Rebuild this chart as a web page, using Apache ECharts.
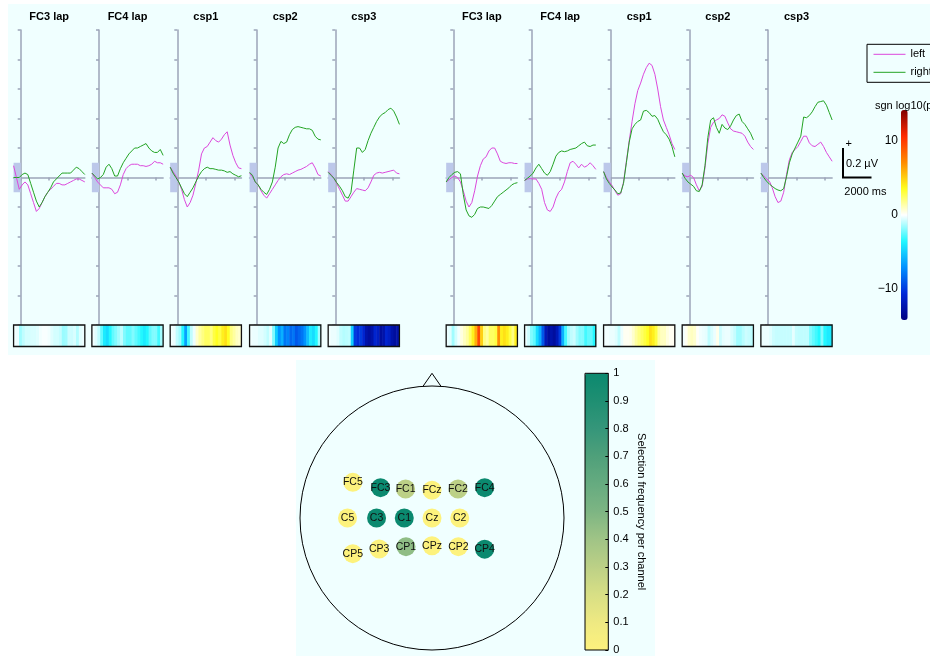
<!DOCTYPE html>
<html>
<head>
<meta charset="utf-8">
<script src="https://cdn.jsdelivr.net/npm/echarts@6/dist/echarts.min.js"></script>
<style>
  html, body { margin: 0; padding: 0; background: #ffffff; }
  #main { width: 930px; height: 656px; }
</style>
</head>
<body>
<div id="main"></div>
<script>
// ---------------------------------------------------------------------------
// Data
// ---------------------------------------------------------------------------
const panelTitles = ['FC3 lap', 'FC4 lap', 'csp1', 'csp2', 'csp3'];
const classNames = ['left', 'right'];

// sample times of the averaged traces (ms, relative to cue)
const timeMs = [-500, -300, -100, 100, 300, 500, 700, 900, 1100, 1300, 1500, 1700, 1900,
                2100, 2300, 2500, 2700, 2900, 3100, 3300, 3500, 3700, 3900, 4100, 4300, 4500];
// start of each significance bin (ms)
const binStartMs = [-500, -300, -100, 100, 300, 500, 700, 900, 1100, 1300, 1500, 1700, 1900,
                    2100, 2300, 2500, 2700, 2900, 3100, 3300, 3500, 3700, 3900, 4100, 4300];

const baselineMs = [-500, 0];
const baselineBandUv = 0.1;
const scaleBarMs = 2000;
const scaleBarUv = 0.2;

// averaged traces, µV — block A
const a_FC3lap_left  = [0.08, 0.0, -0.08, -0.05, -0.03, -0.05, -0.11, -0.17, -0.23, -0.21, -0.17, -0.13, -0.10, -0.08, -0.06, -0.04, -0.04, -0.05, -0.05, -0.04, -0.03, -0.02, -0.01, -0.01, -0.02, -0.03];
const a_FC3lap_right = [0.0, 0.0, 0.0, 0.02, 0.03, 0.02, -0.04, -0.10, -0.16, -0.20, -0.17, -0.13, -0.10, -0.07, -0.03, -0.01, 0.01, 0.03, 0.03, 0.03, 0.03, 0.05, 0.07, 0.06, 0.04, 0.02];
const a_FC4lap_left  = [0.03, 0.0, -0.03, -0.05, -0.07, -0.07, -0.07, -0.08, -0.11, -0.10, -0.05, 0.02, 0.06, 0.08, 0.09, 0.09, 0.09, 0.08, 0.08, 0.075, 0.08, 0.09, 0.11, 0.10, 0.10, 0.09];
const a_FC4lap_right = [0.03, 0.01, -0.01, 0.0, 0.02, 0.07, 0.09, 0.06, 0.01, 0.01, 0.06, 0.10, 0.13, 0.16, 0.18, 0.20, 0.20, 0.21, 0.22, 0.23, 0.20, 0.18, 0.17, 0.17, 0.19, 0.15];
const a_csp1_left    = [0.07, 0.04, 0.01, -0.03, -0.08, -0.15, -0.20, -0.17, -0.12, -0.04, 0.05, 0.16, 0.20, 0.21, 0.24, 0.27, 0.25, 0.24, 0.26, 0.29, 0.31, 0.22, 0.15, 0.10, 0.065, 0.06];
const a_csp1_right   = [0.07, 0.03, 0.0, -0.03, -0.07, -0.11, -0.13, -0.10, -0.07, -0.03, 0.01, 0.04, 0.06, 0.07, 0.06, 0.06, 0.055, 0.05, 0.05, 0.045, 0.035, 0.04, 0.025, 0.015, 0.005, 0.012];
const a_csp2_left    = [0.03, 0.005, -0.03, -0.05, -0.09, -0.12, -0.14, -0.11, -0.08, -0.05, -0.02, 0.005, 0.02, 0.025, 0.02, 0.03, 0.04, 0.05, 0.055, 0.065, 0.075, 0.09, 0.10, 0.065, 0.02, 0.01];
const a_csp2_right   = [0.035, 0.015, -0.03, -0.05, -0.08, -0.10, -0.115, -0.08, -0.03, 0.07, 0.20, 0.245, 0.23, 0.24, 0.29, 0.325, 0.34, 0.345, 0.34, 0.335, 0.33, 0.33, 0.32, 0.28, 0.26, 0.255];
const a_csp3_left    = [0.04, 0.02, -0.005, -0.04, -0.08, -0.12, -0.16, -0.16, -0.13, -0.10, -0.075, -0.08, -0.085, -0.09, -0.07, -0.03, 0.015, 0.03, 0.035, 0.03, 0.035, 0.04, 0.045, 0.05, 0.03, 0.025];
const a_csp3_right   = [0.035, 0.015, -0.005, -0.035, -0.06, -0.09, -0.13, -0.14, -0.10, 0.05, 0.20, 0.20, 0.17, 0.19, 0.25, 0.30, 0.34, 0.38, 0.41, 0.43, 0.44, 0.46, 0.47, 0.45, 0.41, 0.36];

// averaged traces, µV — block B
const b_FC3lap_left  = [-0.03, -0.015, 0.0, 0.01, 0.0, -0.03, -0.09, -0.16, -0.20, -0.17, -0.09, 0.01, 0.08, 0.125, 0.14, 0.18, 0.20, 0.20, 0.16, 0.11, 0.10, 0.095, 0.10, 0.10, 0.095, 0.095];
const b_FC3lap_right = [-0.03, 0.0, 0.02, 0.035, 0.04, 0.025, -0.115, -0.22, -0.26, -0.27, -0.25, -0.21, -0.20, -0.20, -0.205, -0.21, -0.19, -0.16, -0.13, -0.115, -0.10, -0.085, -0.07, -0.05, -0.04, -0.035];
const b_FC4lap_left  = [-0.02, -0.01, -0.007, -0.01, -0.01, -0.04, -0.08, -0.17, -0.22, -0.23, -0.20, -0.14, -0.10, -0.08, -0.03, 0.04, 0.10, 0.11, 0.09, 0.065, 0.09, 0.07, 0.08, 0.10, 0.08, 0.055];
const b_FC4lap_right = [-0.02, -0.005, 0.01, 0.03, 0.065, 0.09, 0.06, 0.03, 0.015, 0.04, 0.09, 0.145, 0.17, 0.18, 0.175, 0.18, 0.19, 0.195, 0.20, 0.215, 0.23, 0.24, 0.215, 0.21, 0.22, 0.22];
const b_csp1_left    = [0.04, 0.0, -0.03, -0.055, -0.09, -0.12, -0.11, -0.03, 0.11, 0.25, 0.38, 0.50, 0.59, 0.64, 0.70, 0.745, 0.775, 0.76, 0.70, 0.60, 0.48, 0.39, 0.34, 0.29, 0.23, 0.19];
const b_csp1_right   = [0.04, -0.01, -0.04, -0.065, -0.085, -0.11, -0.105, -0.04, 0.10, 0.24, 0.33, 0.36, 0.38, 0.39, 0.45, 0.455, 0.44, 0.415, 0.42, 0.395, 0.35, 0.31, 0.29, 0.26, 0.21, 0.14];
const b_csp2_left    = [0.03, 0.01, 0.005, 0.015, 0.0, -0.05, -0.09, -0.06, 0.065, 0.23, 0.34, 0.375, 0.39, 0.40, 0.425, 0.415, 0.37, 0.33, 0.315, 0.31, 0.305, 0.30, 0.28, 0.24, 0.21, 0.19];
const b_csp2_right   = [0.03, -0.005, -0.03, -0.045, -0.06, -0.09, -0.095, -0.05, 0.08, 0.27, 0.39, 0.405, 0.34, 0.30, 0.36, 0.335, 0.325, 0.35, 0.39, 0.42, 0.43, 0.38, 0.36, 0.33, 0.30, 0.255];
const b_csp3_left    = [0.03, 0.01, -0.01, -0.025, -0.07, -0.13, -0.17, -0.16, -0.10, 0.02, 0.12, 0.17, 0.19, 0.21, 0.245, 0.28, 0.28, 0.235, 0.215, 0.21, 0.225, 0.24, 0.21, 0.17, 0.14, 0.11];
const b_csp3_right   = [0.03, 0.0, -0.025, -0.045, -0.06, -0.075, -0.085, -0.09, -0.075, 0.005, 0.10, 0.16, 0.20, 0.24, 0.28, 0.41, 0.405, 0.42, 0.445, 0.48, 0.51, 0.515, 0.52, 0.49, 0.44, 0.39];

// signed log10(p) of the left/right difference per bin
const sgnA_FC3lap = [-0.2, -0.3, -1.5, -1.0, -0.7, -0.7, -0.6, -0.6, -0.5, -0.2, -0.1, -0.1, -0.2, -0.5, -0.7, -0.7, -0.9, -1.6, -1.5, -0.8, -0.8, -0.6, -1.2, -0.5, -0.3];
const sgnA_FC4lap = [-0.2, -0.5, -1.0, -2.5, -4.0, -4.5, -3.5, -2.5, -2.0, -1.5, -1.0, -2.0, -2.5, -2.5, -2.0, -2.5, -3.0, -3.5, -4.0, -3.5, -2.5, -2.0, -2.0, -3.0, -1.5];
const sgnA_csp1   = [-0.2, -0.3, -1.0, -1.5, -3.5, -6.5, -3.0, -1.0, -0.3, 0.8, 1.5, 2.0, 2.5, 2.5, 2.0, 3.0, 3.5, 3.0, 4.0, 4.5, 3.5, 2.0, 1.5, 1.0, 0.8];
const sgnA_csp2   = [-0.2, -0.3, -0.3, -0.5, -0.5, -0.7, -1.0, -0.4, -2.0, -5.0, -7.0, -6.0, -8.0, -7.5, -8.5, -8.0, -9.0, -8.5, -8.0, -7.0, -5.5, -4.0, -4.5, -3.5, -1.5];
const sgnA_csp3   = [-0.2, -0.3, -0.3, -0.5, -1.0, -1.2, -1.1, -1.0, -5.0, -10.0, -10.5, -10.0, -11.0, -12.5, -13.0, -12.5, -11.0, -11.5, -13.0, -12.5, -11.0, -11.5, -12.5, -13.0, -12.5];
const sgnB_FC3lap = [-0.3, -0.5, -1.5, -0.7, -0.2, 0.5, 1.0, 1.5, 2.5, 4.0, 6.0, 9.5, 5.0, 2.0, 1.5, 2.5, 2.5, 3.0, 7.0, 4.0, 4.5, 4.0, 3.0, 2.0, 4.0];
const sgnB_FC4lap = [-0.3, -0.8, -2.0, -2.5, -4.5, -6.0, -9.0, -12.0, -13.0, -12.5, -13.0, -12.0, -10.0, -6.0, -3.0, -1.5, -1.0, -0.8, -1.5, -2.0, -2.0, -3.0, -2.5, -2.5, -3.5];
const sgnB_csp1   = [-0.2, -0.2, -0.3, -0.3, -0.5, -1.0, -0.3, 0.2, 0.2, 0.3, 0.8, 1.5, 2.0, 2.5, 3.0, 3.5, 4.5, 4.0, 3.0, 1.5, 1.0, 1.0, 0.5, 0.2, 0.2];
const sgnB_csp2   = [-0.2, 0.2, 0.8, 1.0, 0.8, 0.1, -0.2, -0.3, -0.4, -1.0, -0.6, -0.3, 0.3, -0.8, -0.4, -0.3, -0.3, -0.6, -0.9, -1.5, -1.5, -1.1, -0.8, -0.9, -1.1];
const sgnB_csp3   = [-0.3, -0.3, -0.3, -0.5, -0.8, -0.9, -0.9, -0.9, -0.9, -0.9, -0.9, -0.4, -0.9, -1.0, -1.0, -1.0, -1.0, -2.0, -2.5, -3.0, -3.5, -2.0, -3.5, -4.0, -4.0];

// channel selection on the scalp (head units, nose up)
const electrodeNames = ['FC5', 'FC3', 'FC1', 'FCz', 'FC2', 'FC4', 'C5', 'C3', 'C1', 'Cz', 'C2', 'CP5', 'CP3', 'CP1', 'CPz', 'CP2', 'CP4'];
const electrodeX = [-0.60, -0.39, -0.20, 0.0, 0.197, 0.399, -0.64, -0.42, -0.21, 0.0, 0.21, -0.60, -0.40, -0.197, 0.0, 0.20, 0.399];
const electrodeY = [0.27, 0.23, 0.22, 0.21, 0.22, 0.23, 0.0, 0.0, 0.0, 0.0, 0.0, -0.27, -0.235, -0.217, -0.21, -0.217, -0.236];
const selectionFreq = [0.0, 1.0, 0.3, 0.0, 0.3, 1.0, 0.0, 1.0, 1.0, 0.0, 0.0, 0.0, 0.0, 0.45, 0.0, 0.0, 1.0];
const noseOutline = [[-0.068, 0.998], [0, 1.096], [0.068, 0.998]];

const signifRange = [-14.2, 14.2];
const signifTicks = [-10, 0, 10];

const curvesLeft  = [a_FC3lap_left, a_FC4lap_left, a_csp1_left, a_csp2_left, a_csp3_left,
                     b_FC3lap_left, b_FC4lap_left, b_csp1_left, b_csp2_left, b_csp3_left];
const curvesRight = [a_FC3lap_right, a_FC4lap_right, a_csp1_right, a_csp2_right, a_csp3_right,
                     b_FC3lap_right, b_FC4lap_right, b_csp1_right, b_csp2_right, b_csp3_right];
const strips = [sgnA_FC3lap, sgnA_FC4lap, sgnA_csp1, sgnA_csp2, sgnA_csp3,
                sgnB_FC3lap, sgnB_FC4lap, sgnB_csp1, sgnB_csp2, sgnB_csp3];

// ---------------------------------------------------------------------------
// Layout and style
// ---------------------------------------------------------------------------
const FONT = "'Liberation Sans', Arial, Helvetica, sans-serif";
const MAGENTA = '#dc48dc';
const GREEN = '#23a323';
const AXIS_COLOR = '#9ca5b9';
const SHADE = '#bcc8ea';
const BG = '#f0ffff';

const zeroX = [20.7, 99, 177.3, 256.7, 335.3, 453.3, 531.7, 610.7, 689.3, 768];
const PANEL_W = 71.25, PRE_W = 7.125;
const PANEL_TOP = 30, PANEL_H = 295;
const STRIP_TOP = 325, STRIP_H = 21.5;

const signifColors = ['#000080', '#0028d8', '#0090ff', '#20f8ff', '#ffffff',
                      '#ffff20', '#ff8c00', '#ff2a00', '#800000'];
const freqColors = ['#fdf27d', '#eee982', '#d8df85', '#bcd086', '#a0c486', '#7db583',
                    '#66ab80', '#4fa07a', '#35967a', '#1f8f72', '#0b896f'];

const nPanels = zeroX.length;
const grids = [], xAxes = [], yAxes = [], series = [], titles = [];
const axisLineStyle = { color: AXIS_COLOR, width: 1.5 };

for (let i = 0; i < nPanels; i++) {
  grids.push({ left: zeroX[i] - PRE_W, top: PANEL_TOP, width: PANEL_W, height: PANEL_H });
  xAxes.push({
    type: 'value', gridIndex: i, min: timeMs[0], max: timeMs[timeMs.length - 1],
    axisLine: { show: true, onZero: true, lineStyle: axisLineStyle },
    axisTick: { show: true, customValues: [0, 2000, 4000], length: 3, lineStyle: axisLineStyle },
    axisLabel: { show: false }, splitLine: { show: false }
  });
  yAxes.push({
    type: 'value', gridIndex: i, min: -1, max: 1, interval: 0.2,
    axisLine: { show: true, onZero: true, lineStyle: axisLineStyle },
    axisTick: { show: true, length: 3, lineStyle: axisLineStyle },
    axisLabel: { show: false }, splitLine: { show: false }
  });
  titles.push({
    text: panelTitles[i % panelTitles.length],
    left: zeroX[i] - PRE_W + PANEL_W / 2, top: 11, textAlign: 'center', padding: 0,
    textStyle: { fontSize: 11, fontWeight: 'bold', color: '#000', fontFamily: FONT }
  });
}
for (let i = 0; i < nPanels; i++) {
  grids.push({ left: zeroX[i] - PRE_W, top: STRIP_TOP, width: PANEL_W, height: STRIP_H,
               show: true, borderColor: '#111', borderWidth: 1.3, z: 10 });
  xAxes.push({ type: 'category', gridIndex: nPanels + i, data: binStartMs, show: false });
  yAxes.push({ type: 'category', gridIndex: nPanels + i, data: ['p'], show: false });
}
// significance colorbar axis
const CB1 = grids.length;
grids.push({ left: 901, top: 110, width: 6.7, height: 210 });
xAxes.push({ type: 'value', gridIndex: CB1, show: false });
yAxes.push({
  type: 'value', gridIndex: CB1, min: signifRange[0], max: signifRange[1], position: 'left',
  axisLine: { show: false, onZero: false }, axisTick: { show: false }, splitLine: { show: false },
  axisLabel: { customValues: signifTicks, margin: 3, fontSize: 12, color: '#000', fontFamily: FONT,
               formatter: v => (v < 0 ? '\u2212' + Math.abs(v) : String(v)) }
});
// selection-frequency colorbar axis
const CB2 = grids.length;
grids.push({ left: 585, top: 373.3, width: 23.3, height: 276.7, show: true,
             borderColor: '#000', borderWidth: 1, z: 10 });
xAxes.push({ type: 'value', gridIndex: CB2, show: false });
yAxes.push({
  type: 'value', gridIndex: CB2, min: 0, max: 1, interval: 0.1, position: 'right', z: 10,
  axisLine: { show: false, onZero: false }, splitLine: { show: false },
  axisTick: { show: true, inside: true, length: 3, lineStyle: { color: '#000', width: 1 } },
  axisLabel: { margin: 5, fontSize: 11, color: '#000', fontFamily: FONT,
               formatter: v => String(Math.round(v * 10) / 10) },
  name: 'Selection frequency per channel', nameLocation: 'middle', nameRotate: -90, nameGap: 27,
  nameTextStyle: { fontSize: 11, color: '#000', fontFamily: FONT }
});
// scalp map
const HEAD = grids.length;
grids.push({ left: 300, top: 372.8, width: 264, height: 277.2 });
xAxes.push({ type: 'value', gridIndex: HEAD, min: -1, max: 1, show: false });
yAxes.push({ type: 'value', gridIndex: HEAD, min: -1, max: 1.1, show: false });

titles.push({ text: 'sgn log10(p)', left: 875, top: 100.5, padding: 0,
              textStyle: { fontSize: 11, fontWeight: 'normal', color: '#000', fontFamily: FONT } });

// traces
for (let i = 0; i < nPanels; i++) {
  [curvesLeft, curvesRight].forEach((set, c) => {
    const color = c === 0 ? MAGENTA : GREEN;
    const s = {
      type: 'line', name: classNames[c], xAxisIndex: i, yAxisIndex: i,
      data: timeMs.map((t, k) => [t, set[i][k]]),
      symbol: 'none', lineStyle: { color, width: 1 }, itemStyle: { color },
      emphasis: { disabled: true }, silent: true
    };
    if (c === 0) {
      s.markArea = {
        silent: true, itemStyle: { color: SHADE, opacity: 1 },
        data: [[{ coord: [baselineMs[0], -baselineBandUv] }, { coord: [baselineMs[1], baselineBandUv] }]]
      };
    }
    series.push(s);
  });
}
// significance strips
const stripSeries = [];
for (let i = 0; i < nPanels; i++) {
  stripSeries.push(series.length);
  series.push({
    type: 'heatmap', xAxisIndex: nPanels + i, yAxisIndex: nPanels + i,
    data: strips[i].map((v, k) => [k, 0, v]),
    itemStyle: { borderWidth: 0 }, emphasis: { disabled: true }, progressive: 0, silent: true
  });
}
// electrodes
const scalpSeries = series.length;
series.push({
  type: 'scatter', xAxisIndex: HEAD, yAxisIndex: HEAD, symbolSize: 19,
  data: electrodeNames.map((n, k) => ({ name: n, value: [electrodeX[k], electrodeY[k], selectionFreq[k]] })),
  itemStyle: { opacity: 1 },
  label: { show: true, position: 'inside', formatter: '{b}', fontSize: 10.5, color: '#111', fontFamily: FONT },
  emphasis: { disabled: true }, silent: true, z: 3
});

const option = {
  animation: false,
  backgroundColor: '#ffffff',
  textStyle: { fontFamily: FONT },
  title: titles,
  grid: grids,
  xAxis: xAxes,
  yAxis: yAxes,
  legend: {
    data: classNames, orient: 'vertical', left: 867, top: 44.3,
    padding: [4.5, 40, 4.5, 6], itemWidth: 32, itemHeight: 12, itemGap: 7,
    borderColor: '#000', borderWidth: 1, backgroundColor: BG, selectedMode: false,
    itemStyle: { opacity: 0 }, lineStyle: { width: 1 },
    textStyle: { fontSize: 11, color: '#000', fontFamily: FONT }
  },
  visualMap: [
    {
      type: 'continuous', min: signifRange[0], max: signifRange[1], seriesIndex: stripSeries, dimension: 2,
      inRange: { color: signifColors }, calculable: false, hoverLink: false, orient: 'vertical',
      left: 901, top: 110, itemWidth: 6.7, itemHeight: 210, padding: 0, text: null
    },
    {
      type: 'continuous', min: 0, max: 1, seriesIndex: [scalpSeries], dimension: 2,
      inRange: { color: freqColors }, calculable: false, hoverLink: false, orient: 'vertical',
      left: 585, top: 373.3, itemWidth: 23.3, itemHeight: 276.7, padding: 0, text: null
    }
  ],
  series
};

const chart = echarts.init(document.getElementById('main'));
chart.setOption(option);

// decorations sized from the axes: scale bar, head outline, panel backgrounds
const o = chart.convertToPixel({ gridIndex: 0 }, [0, 0]);
const s1 = chart.convertToPixel({ gridIndex: 0 }, [scaleBarMs, scaleBarUv]);
const barW = s1[0] - o[0];
const barH = o[1] - s1[1];
const corner = [843, 177.5];

const hc = chart.convertToPixel({ gridIndex: HEAD }, [0, 0]);
const he = chart.convertToPixel({ gridIndex: HEAD }, [1, 0]);
const headR = he[0] - hc[0];
const nosePts = noseOutline.map(p => chart.convertToPixel({ gridIndex: HEAD }, p));

const txt = (id, x, y, text) => ({
  type: 'text', id, x, y, z: 20,
  style: { text, fill: '#000', font: '11px ' + FONT, textVerticalAlign: 'middle', verticalAlign: 'middle' }
});

chart.setOption({
  graphic: [
    { type: 'rect', id: 'bgTop', z: -10, shape: { x: 8, y: 4, width: 940, height: 351 }, style: { fill: BG } },
    { type: 'rect', id: 'bgBottom', z: -10, shape: { x: 296, y: 360, width: 359, height: 300 }, style: { fill: BG } },
    { type: 'polyline', id: 'scaleBar', z: 20,
      shape: { points: [[corner[0], corner[1] - barH], corner, [corner[0] + barW, corner[1]]] },
      style: { stroke: '#000', lineWidth: 2, fill: null } },
    txt('plus', 845.5, 143.5, '+'),
    txt('uv', 846, 164, '0.2 \u00b5V'),
    txt('ms', 844.3, 192.3, '2000 ms'),
    { type: 'circle', id: 'head', z: 1, shape: { cx: hc[0], cy: hc[1], r: headR },
      style: { stroke: '#000', lineWidth: 1, fill: null } },
    { type: 'polyline', id: 'nose', z: 1, shape: { points: nosePts },
      style: { stroke: '#000', lineWidth: 1, fill: null } }
  ]
});
</script>
</body>
</html>
